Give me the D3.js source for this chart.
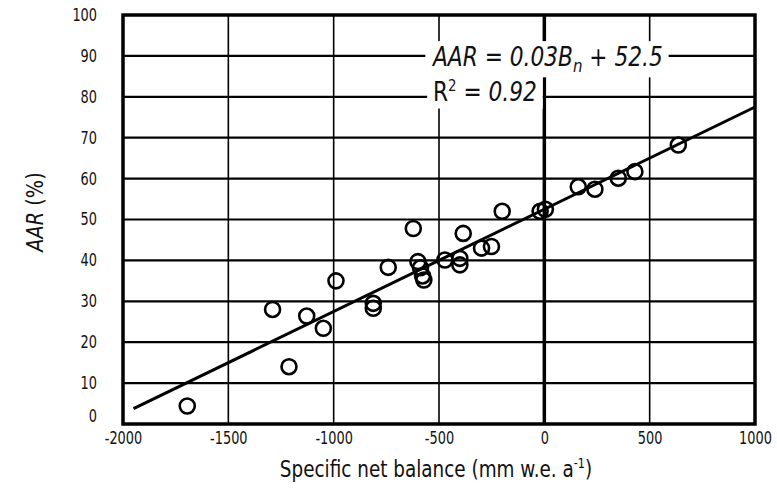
<!DOCTYPE html>
<html>
<head>
<meta charset="utf-8">
<script src="https://cdn.jsdelivr.net/npm/d3@7"></script>
<style>
  html, body { margin: 0; padding: 0; background: #fff; }
  svg { display: block; }
  text { font-family: "DejaVu Sans", sans-serif; fill: #111; }
</style>
</head>
<body>
<svg id="chart" width="777" height="490"></svg>
<script>
// Specific net balance (mm w.e. a-1)
const balance = [-1695, -1290, -1212, -1128, -1049, -989, -812, -812, -741, -622,
  -600, -588, -578, -572, -472, -401, -401, -385, -298, -251, -200, -20, 5,
  161, 240, 351, 430, 636];
// AAR (%)
const aar = [4.4, 28.0, 14.0, 26.4, 23.4, 35.0, 29.5, 28.3, 38.3, 47.8,
  39.7, 38.2, 36.2, 35.2, 40.1, 40.5, 38.9, 46.6, 43.0, 43.4, 52.0, 52.0, 52.5,
  58.0, 57.4, 60.1, 61.7, 68.2];
const xTicks = [-2000, -1500, -1000, -500, 0, 500, 1000];
const yTicks = [0, 10, 20, 30, 40, 50, 60, 70, 80, 90, 100];
const fitSlope = 0.025, fitIntercept = 52.5;
const fitRange = [-1950, 1000];

const svg = d3.select("#chart");
const L = 123, R = 755, T = 15, B = 424;
const x = d3.scaleLinear().domain([-2000, 1000]).range([L, R]);
const y = d3.scaleLinear().domain([0, 100]).range([B, T]);
const NARROW = 0.76;

// grid
const g = svg.append("g");
g.selectAll(".vg").data(xTicks.slice(1, -1)).join("line")
  .attr("x1", d => x(d)).attr("x2", d => x(d)).attr("y1", T).attr("y2", B)
  .attr("stroke", "#000").attr("stroke-width", d => d === 0 ? 3.5 : 1.6);
g.selectAll(".hg").data(yTicks.slice(1, -1)).join("line")
  .attr("x1", L).attr("x2", R).attr("y1", d => y(d)).attr("y2", d => y(d))
  .attr("stroke", "#000").attr("stroke-width", 2.2);

// annotation with white backgrounds
const ann = svg.append("g").attr("transform", "translate(433,0) scale(0.835,1)");
const t1 = ann.append("text").attr("x", 0).attr("y", 66)
  .attr("font-size", 26).attr("font-style", "italic");
t1.append("tspan").text("AAR = 0.03B");
t1.append("tspan").attr("font-size", 18).attr("dy", 6).text("n");
t1.append("tspan").attr("dy", -6).text(" + 52.5");
const t2 = ann.append("text").attr("x", 0).attr("y", 101).attr("font-size", 26);
t2.append("tspan").text("R");
t2.append("tspan").attr("font-size", 16).attr("dy", -10).text("2");
t2.append("tspan").attr("dy", 10).text(" = ");
t2.append("tspan").attr("font-style", "italic").text("0.92");
[t1, t2].forEach(t => {
  const bb = t.node().getBBox();
  ann.insert("rect", () => t.node())
    .attr("x", bb.x - 7).attr("y", bb.y - 1).attr("width", bb.width + 14).attr("height", bb.height + 2)
    .attr("fill", "#fff");
});

// regression line
svg.append("line")
  .attr("x1", x(fitRange[0])).attr("y1", y(fitSlope * fitRange[0] + fitIntercept))
  .attr("x2", x(fitRange[1])).attr("y2", y(fitSlope * fitRange[1] + fitIntercept))
  .attr("stroke", "#000").attr("stroke-width", 3);

// points
svg.append("g").selectAll("circle").data(balance.map((b, i) => [b, aar[i]])).join("circle")
  .attr("cx", d => x(d[0])).attr("cy", d => y(d[1])).attr("r", 7.5)
  .attr("fill", "none").attr("stroke", "#000").attr("stroke-width", 2.6);

// border
svg.append("rect").attr("x", L).attr("y", T).attr("width", R - L).attr("height", B - T)
  .attr("fill", "none").attr("stroke", "#000").attr("stroke-width", 3.5);

// axes labels
const xAxis = d3.axisBottom(x).tickValues(xTicks).tickSize(0).tickPadding(8).tickFormat(d => String(d));
const xa = svg.append("g").attr("transform", `translate(0,${B})`).call(xAxis);
xa.select(".domain").remove();
xa.selectAll("text").attr("font-size", 17).style("font-family", null).attr("fill", "#111")
  .attr("transform", `scale(${NARROW},1)`);

const yAxis = d3.axisLeft(y).tickValues(yTicks).tickSize(0).tickPadding(0).tickFormat(d => String(d));
const ya = svg.append("g").attr("transform", `translate(${L},0)`).call(yAxis);
ya.select(".domain").remove();
ya.selectAll("text").attr("font-size", 17).style("font-family", null).attr("fill", "#111")
  .attr("x", -26 / NARROW).attr("transform", `scale(${NARROW},1)`);
ya.selectAll(".tick").filter(d => d === 0).select("text").attr("dy", "-0.15em");

// axis titles
const xt = svg.append("text").attr("transform", "translate(436,477) scale(0.8,1)")
  .attr("text-anchor", "middle").attr("font-size", 23);
xt.append("tspan").text("Specific net balance (mm w.e. a");
xt.append("tspan").attr("font-size", 14).attr("dy", -9).text("-1");
xt.append("tspan").attr("dy", 9).text(")");

const yt = svg.append("text").attr("transform", "translate(43,212) rotate(-90) scale(0.84,1)")
  .attr("text-anchor", "middle").attr("font-size", 23);
yt.append("tspan").attr("font-style", "italic").text("AAR");
yt.append("tspan").text(" (%)");
</script>
</body>
</html>
